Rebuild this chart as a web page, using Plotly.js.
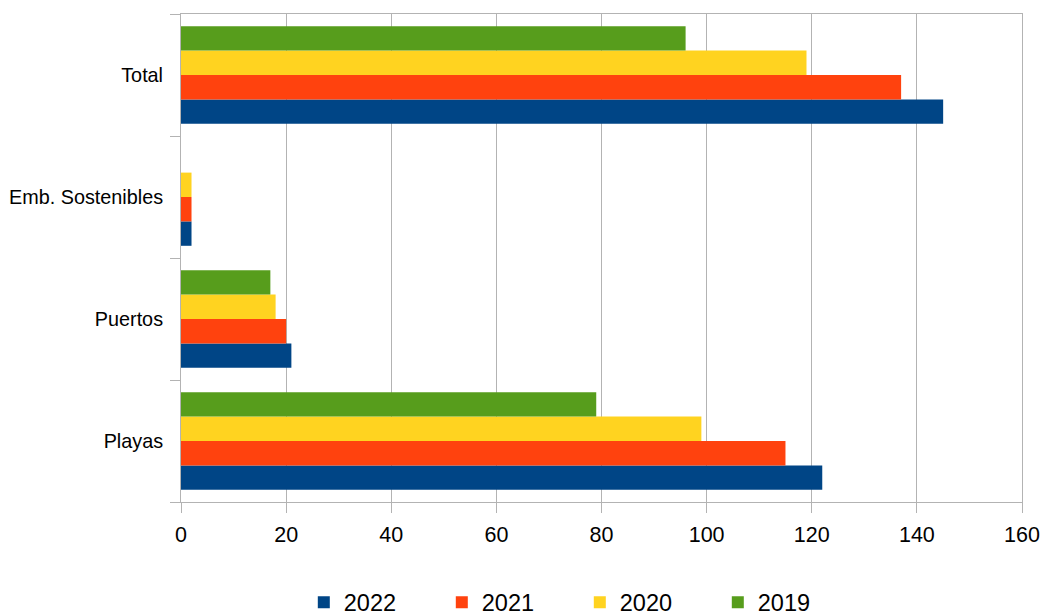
<!DOCTYPE html>
<html>
<head>
<meta charset="utf-8">
<script src="https://cdn.plot.ly/plotly-3.0.1.min.js"></script>
<style>
html,body{margin:0;padding:0;background:#fff;}
#chart{width:1044px;height:616px;}
</style>
</head>
<body>
<div id="chart"></div>
<script>
const categories = ['Playas', 'Puertos', 'Emb. Sostenibles', 'Total'];
const seriesNames = ['2022', '2021', '2020', '2019'];
const values2022 = [122, 21, 2, 145];
const values2021 = [115, 20, 2, 137];
const values2020 = [99, 18, 2, 119];
const values2019 = [79, 17, 0, 96];
const colors = ['#004586', '#ff420e', '#ffd320', '#579d1c'];
const xTicks = [0, 20, 40, 60, 80, 100, 120, 140, 160];

const allValues = [values2022, values2021, values2020, values2019];
const traces = seriesNames.map((name, i) => ({
  type: 'bar',
  orientation: 'h',
  name: name,
  y: categories,
  x: allValues[i],
  marker: {color: colors[i], line: {width: 0}},
  hoverinfo: 'x+y+name'
}));

const layout = {
  width: 1044,
  height: 616,
  margin: {l: 181, r: 22, t: 14, b: 114},
  paper_bgcolor: '#ffffff',
  plot_bgcolor: '#ffffff',
  font: {family: '"Liberation Sans", Arial, sans-serif', color: '#000000'},
  barmode: 'group',
  bargap: 0.2,
  bargroupgap: 0,
  showlegend: true,
  legend: {
    orientation: 'h',
    xref: 'container',
    yref: 'container',
    x: 0.291,
    xanchor: 'left',
    y: 0.022,
    yanchor: 'middle',
    font: {size: 23.5, color: '#000000'},
    entrywidth: 93,
    traceorder: 'normal',
    itemwidth: 30
  },
  xaxis: {
    range: [0, 160],
    tickvals: xTicks,
    ticktext: xTicks.map(String),
    showgrid: true,
    gridcolor: '#b3b3b3',
    gridwidth: 1,
    zeroline: false,
    showline: true,
    linecolor: '#b3b3b3',
    linewidth: 1,
    mirror: true,
    ticks: 'outside',
    ticklen: 10,
    tickcolor: '#b3b3b3',
    tickfont: {size: 21.5, color: '#000000'},
    ticklabelstandoff: 3,
    fixedrange: true
  },
  yaxis: {
    type: 'category',
    categoryorder: 'array',
    categoryarray: categories,
    showgrid: false,
    zeroline: false,
    showline: true,
    linecolor: '#b3b3b3',
    linewidth: 1,
    mirror: true,
    ticks: 'outside',
    tickson: 'boundaries',
    ticklen: 10,
    tickcolor: '#b3b3b3',
    tickfont: {size: 19.8, color: '#000000'},
    ticklabelstandoff: 13,
    fixedrange: true
  }
};

Plotly.newPlot('chart', traces, layout, {displayModeBar: false, staticPlot: true});
</script>
</body>
</html>
